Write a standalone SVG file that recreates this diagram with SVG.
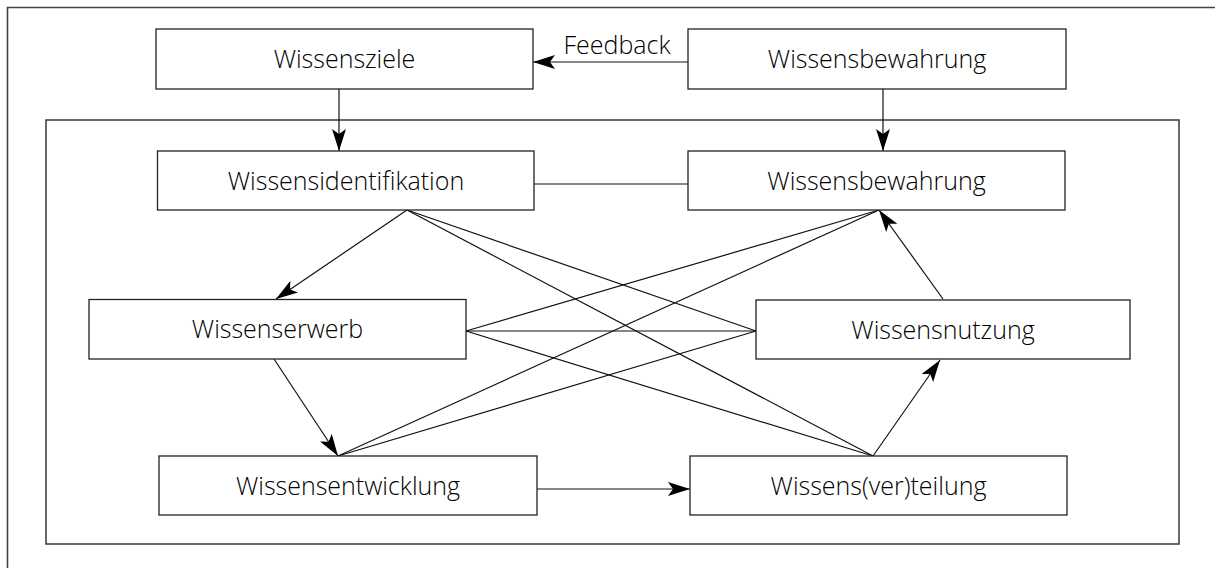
<svg xmlns="http://www.w3.org/2000/svg" width="1215" height="568" viewBox="0 0 1215 568">
<style>
.frame{fill:none;stroke:#444;stroke-width:1.6}
.box{fill:#fff;stroke:#222;stroke-width:1.3}
.lbl{font-family:"Open Sans","Liberation Sans",sans-serif;font-weight:300;font-size:25px;fill:#000;text-anchor:middle}
.ln{stroke:#111;stroke-width:1.2;fill:none}
.arr{marker-end:url(#ah)}
</style>
<defs>
<marker id="ah" viewBox="0 0 22 14" refX="22" refY="7" markerWidth="22" markerHeight="14" markerUnits="userSpaceOnUse" orient="auto">
<path d="M22,7 L0,0 L5,7 L0,14 Z" fill="#000"/>
</marker>
</defs>
<rect width="1215" height="568" fill="#fff"/>
<g id="outer-frame"><path class="frame" d="M7.5,568 L7.5,7.5 L1215,7.5"/></g>
<g id="inner-frame"><rect class="frame" x="46" y="120" width="1133" height="424"/></g>
<g id="connectors">
<line class="ln arr" x1="339" y1="89" x2="339" y2="151"/>
<line class="ln arr" x1="883" y1="89" x2="883" y2="151"/>
<line class="ln arr" x1="688" y1="62" x2="533" y2="62"/>
<line class="ln" x1="534" y1="184" x2="688" y2="184"/>
<line class="ln arr" x1="407" y1="210" x2="276" y2="299"/>
<line class="ln" x1="407" y1="210" x2="756" y2="331"/>
<line class="ln" x1="407" y1="210" x2="873" y2="456"/>
<line class="ln" x1="466" y1="331" x2="756" y2="331"/>
<line class="ln" x1="466" y1="331" x2="879" y2="210"/>
<line class="ln" x1="466" y1="331" x2="873" y2="456"/>
<line class="ln arr" x1="274" y1="359" x2="338" y2="456"/>
<line class="ln" x1="338" y1="456" x2="879" y2="210"/>
<line class="ln" x1="338" y1="456" x2="756" y2="331"/>
<line class="ln arr" x1="537" y1="489" x2="690" y2="489"/>
<line class="ln arr" x1="873" y1="456" x2="940" y2="360"/>
<line class="ln arr" x1="943" y1="299" x2="879" y2="210"/>
<text class="lbl" x="617" y="54">Feedback</text>
</g>
<g id="n-ziele"><rect class="box" x="156" y="29" width="377" height="60"/><text class="lbl" x="344.5" y="68">Wissensziele</text></g>
<g id="n-bewahrung-top"><rect class="box" x="688" y="29" width="378" height="60"/><text class="lbl" x="877" y="68">Wissensbewahrung</text></g>
<g id="n-identifikation"><rect class="box" x="157.5" y="151" width="376.5" height="59"/><text class="lbl" x="346" y="189.5">Wissensidentifikation</text></g>
<g id="n-bewahrung"><rect class="box" x="688" y="151" width="377" height="59"/><text class="lbl" x="876.5" y="189.5">Wissensbewahrung</text></g>
<g id="n-erwerb"><rect class="box" x="89" y="299.5" width="377" height="59.5"/><text class="lbl" x="277.5" y="338">Wissenserwerb</text></g>
<g id="n-nutzung"><rect class="box" x="756" y="300" width="374" height="59"/><text class="lbl" x="943" y="338.5">Wissensnutzung</text></g>
<g id="n-entwicklung"><rect class="box" x="159" y="456" width="378" height="59"/><text class="lbl" x="348" y="494.5">Wissensentwicklung</text></g>
<g id="n-verteilung"><rect class="box" x="690" y="456" width="377" height="59"/><text class="lbl" x="878.5" y="494.5">Wissens(ver)teilung</text></g>
</svg>
